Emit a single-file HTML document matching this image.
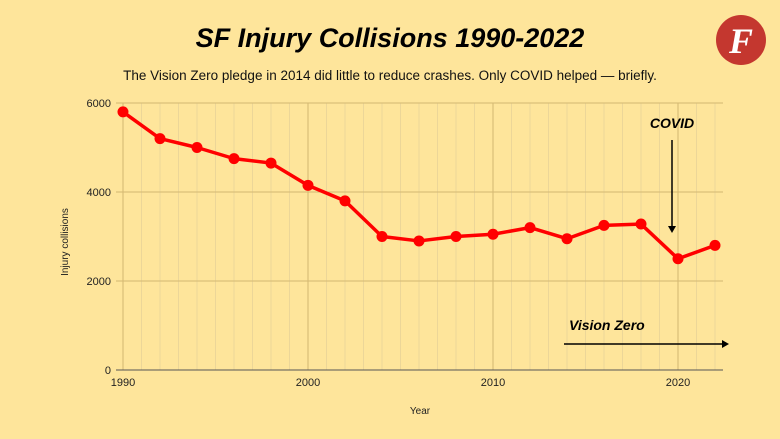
<!DOCTYPE html>
<html><head><meta charset="utf-8"><style>
body{margin:0;background:#fee59b;}
svg{display:block;font-family:"Liberation Sans",sans-serif;}
</style></head><body>
<svg width="780" height="439" viewBox="0 0 780 439">
<rect width="780" height="439" fill="#fee59b"/>
<text x="390" y="47" text-anchor="middle" font-size="27" font-weight="bold" font-style="italic" fill="#000">SF Injury Collisions 1990-2022</text>
<text x="390" y="80" text-anchor="middle" font-size="13.5" fill="#111">The Vision Zero pledge in 2014 did little to reduce crashes. Only COVID helped — briefly.</text>
<g><circle cx="741" cy="40" r="25" fill="#c4372f"/><text x="741" y="53" text-anchor="middle" font-size="36" font-weight="bold" font-style="italic" font-family="Liberation Serif,serif" fill="#fff">F</text></g>
<g id="grid"></g>
<g id="axes"></g>
<text transform="translate(68,242) rotate(-90)" text-anchor="middle" font-size="10" fill="#222">Injury collisions</text>
<text x="420" y="414" text-anchor="middle" font-size="10" fill="#222">Year</text>
<g id="series"></g>
<g>
<text x="672" y="128" text-anchor="middle" font-size="14" font-weight="bold" font-style="italic">COVID</text>
<line x1="672" y1="140" x2="672" y2="228" stroke="#000" stroke-width="1.5"/>
<path d="M668,226 L672,233 L676,226 Z" fill="#000"/>
</g>
<g>
<text x="569" y="330" font-size="14" font-weight="bold" font-style="italic">Vision Zero</text>
<line x1="564" y1="344" x2="724" y2="344" stroke="#000" stroke-width="1.5"/>
<path d="M722,340 L729,344 L722,348 Z" fill="#000"/>
</g>
</svg>
<script>
const years=[1990,1992,1994,1996,1998,2000,2002,2004,2006,2008,2010,2012,2014,2016,2018,2020,2022];
const collisions=[5800,5200,5000,4750,4650,4150,3800,3000,2900,3000,3050,3200,2950,3250,3280,2500,2800];
const yTicks=[0,2000,4000,6000];
const xTicks=[1990,2000,2010,2020];
const NS='http://www.w3.org/2000/svg';
const X=y=>123+(y-1990)*18.5;
const Y=v=>370-v*0.0445;
function mk(t,a,p){const e=document.createElementNS(NS,t);for(const k in a)e.setAttribute(k,a[k]);p.appendChild(e);return e;}
const grid=document.getElementById('grid'),axes=document.getElementById('axes'),ser=document.getElementById('series');
for(let yr=1990;yr<=2022;yr++){
 const major=yr%10===0;
 const l=mk('line',{x1:X(yr),x2:X(yr),y1:Y(6000),y2:Y(0),stroke:major?'#d3b872':'#ecd698','stroke-width':1},grid);
 
 
}
yTicks.forEach(v=>{
 const l=mk('line',{x1:116,x2:723,y1:Y(v),y2:Y(v),stroke:v===0?'#555':'#d3b872','stroke-width':1},grid);
 
 
 const t=mk('text',{x:111,y:Y(v)+4,'text-anchor':'end','font-size':11,fill:'#222'},axes);
 t.textContent=v;
 
 
});
xTicks.forEach(v=>{
 const t=mk('text',{x:X(v),y:386,'text-anchor':'middle','font-size':11,fill:'#222'},axes);
 t.textContent=v;
 
 
});
const pl=mk('polyline',{points:years.map((y,i)=>X(y)+','+Y(collisions[i])).join(' '),fill:'none',stroke:'#ff0000','stroke-width':3.5,'stroke-linejoin':'round'},ser);


years.forEach((y,i)=>{
 const c=mk('circle',{cx:X(y),cy:Y(collisions[i]),r:5.5,fill:'#ff0000'},ser);
 
 
});
</script>
</body></html>
